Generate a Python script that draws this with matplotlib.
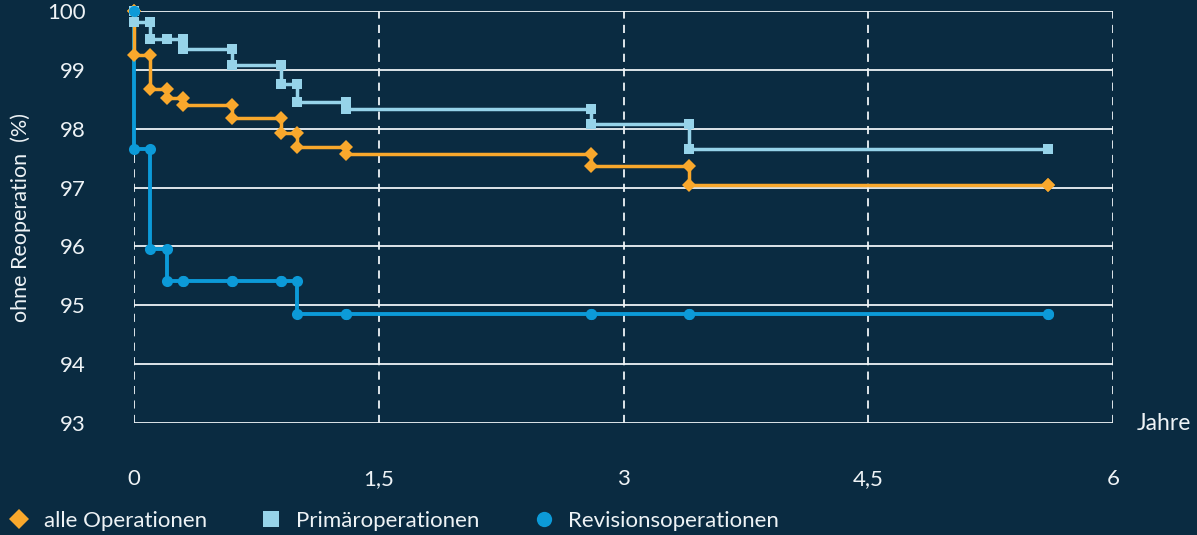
import matplotlib
matplotlib.use("Agg")
import matplotlib.pyplot as plt
from matplotlib.lines import Line2D

# ---- data ----
times = [0, 0.1, 0.2, 0.3, 0.6, 0.9, 1.0, 1.3, 2.8, 3.4, 5.6]
start_value = 100.0
alle_ops = [99.26, 98.67, 98.53, 98.41, 98.18, 97.93, 97.69, 97.57, 97.36, 97.04, 97.04]
primaer_ops = [99.82, 99.52, 99.52, 99.36, 99.08, 98.76, 98.45, 98.33, 98.08, 97.65, 97.65]
revision_ops = [97.66, 95.96, 95.41, 95.41, 95.41, 95.41, 94.85, 94.85, 94.85, 94.85, 94.85]
series_labels = ["alle Operationen", "Primäroperationen", "Revisionsoperationen"]
x_ticks = [0, 1.5, 3, 4.5, 6]
x_ticklabels = ["0", "1,5", "3", "4,5", "6"]
y_ticks = [93, 94, 95, 96, 97, 98, 99, 100]

BG = "#0a2b41"
WHITE = "#eef3f6"
ORANGE = "#f9a82c"
LIGHT = "#96d3e9"
BLUE = "#0c9ad8"

plt.rcParams["font.family"] = ["Lato", "DejaVu Sans"]


def step_vertices(ts, vals, v0):
    xs, ys = [ts[0]], [v0]
    prev = v0
    for t, v in zip(ts, vals):
        xs += [t, t]
        ys += [prev, v]
        prev = v
    return xs[1:], ys[1:]


fig = plt.figure(figsize=(11.97, 5.35), dpi=100, facecolor=BG)
ax = fig.add_axes([134 / 1197, 1 - 423 / 535, 979 / 1197, 412 / 535])
ax.set_facecolor(BG)

ax.set_xlim(0, 6)
ax.set_ylim(93, 100)

for y in y_ticks:
    ax.axhline(y, color=WHITE, lw=1.3, zorder=1)
for x in x_ticks:
    ax.axvline(x, color=WHITE, lw=1.3, ls=(0, (4.5, 3.5)), zorder=1)

styles = [
    (revision_ops, BLUE, "o", 8, 2.8),
    (alle_ops, ORANGE, "D", 7.5, 2.5),
    (primaer_ops, LIGHT, "s", 7.5, 2.5),
]
for vals, col, mk, ms, lw in styles:
    xs, ys = step_vertices(times, vals, start_value)
    xs = [0] + xs
    ys = [start_value] + ys
    ax.plot(xs, ys, color=col, lw=lw, marker=mk, ms=ms, mew=0, clip_on=False, zorder=3)

ax.plot([0], [100], marker="o", ms=8, color=BLUE, mew=0, clip_on=False, zorder=4)

for s in ax.spines.values():
    s.set_visible(False)
ax.set_xticks(x_ticks)
ax.set_xticklabels(x_ticklabels)
ax.set_yticks(y_ticks)
ax.set_yticklabels([str(v) for v in y_ticks])
ax.tick_params(axis="both", length=0, colors=WHITE, labelsize=16)
ax.tick_params(axis="y", pad=35)
ax.tick_params(axis="x", pad=33)

fig.text(21 / 1197, 1 - 217 / 535, "ohne Reoperation  (%)", rotation=90,
         ha="center", va="center", color=WHITE, fontsize=15.5)
fig.text(1137 / 1197, 1 - 423 / 535, "Jahre", ha="left", va="center",
         color=WHITE, fontsize=16.5)

handles = [
    Line2D([], [], ls="none", marker="D", color=ORANGE, ms=10, mew=0),
    Line2D([], [], ls="none", marker="s", color=LIGHT, ms=11, mew=0),
    Line2D([], [], ls="none", marker="o", color=BLUE, ms=11, mew=0),
]
leg = fig.legend(handles, series_labels, loc="center left",
                 bbox_to_anchor=(0.0013, 1 - 521 / 535), ncol=3, frameon=False,
                 fontsize=16, labelcolor=WHITE, handlelength=1.0,
                 handletextpad=0.6, columnspacing=2.4, borderaxespad=0,
                 borderpad=0.3)

fig.savefig("out.png", dpi=100, facecolor=BG)
